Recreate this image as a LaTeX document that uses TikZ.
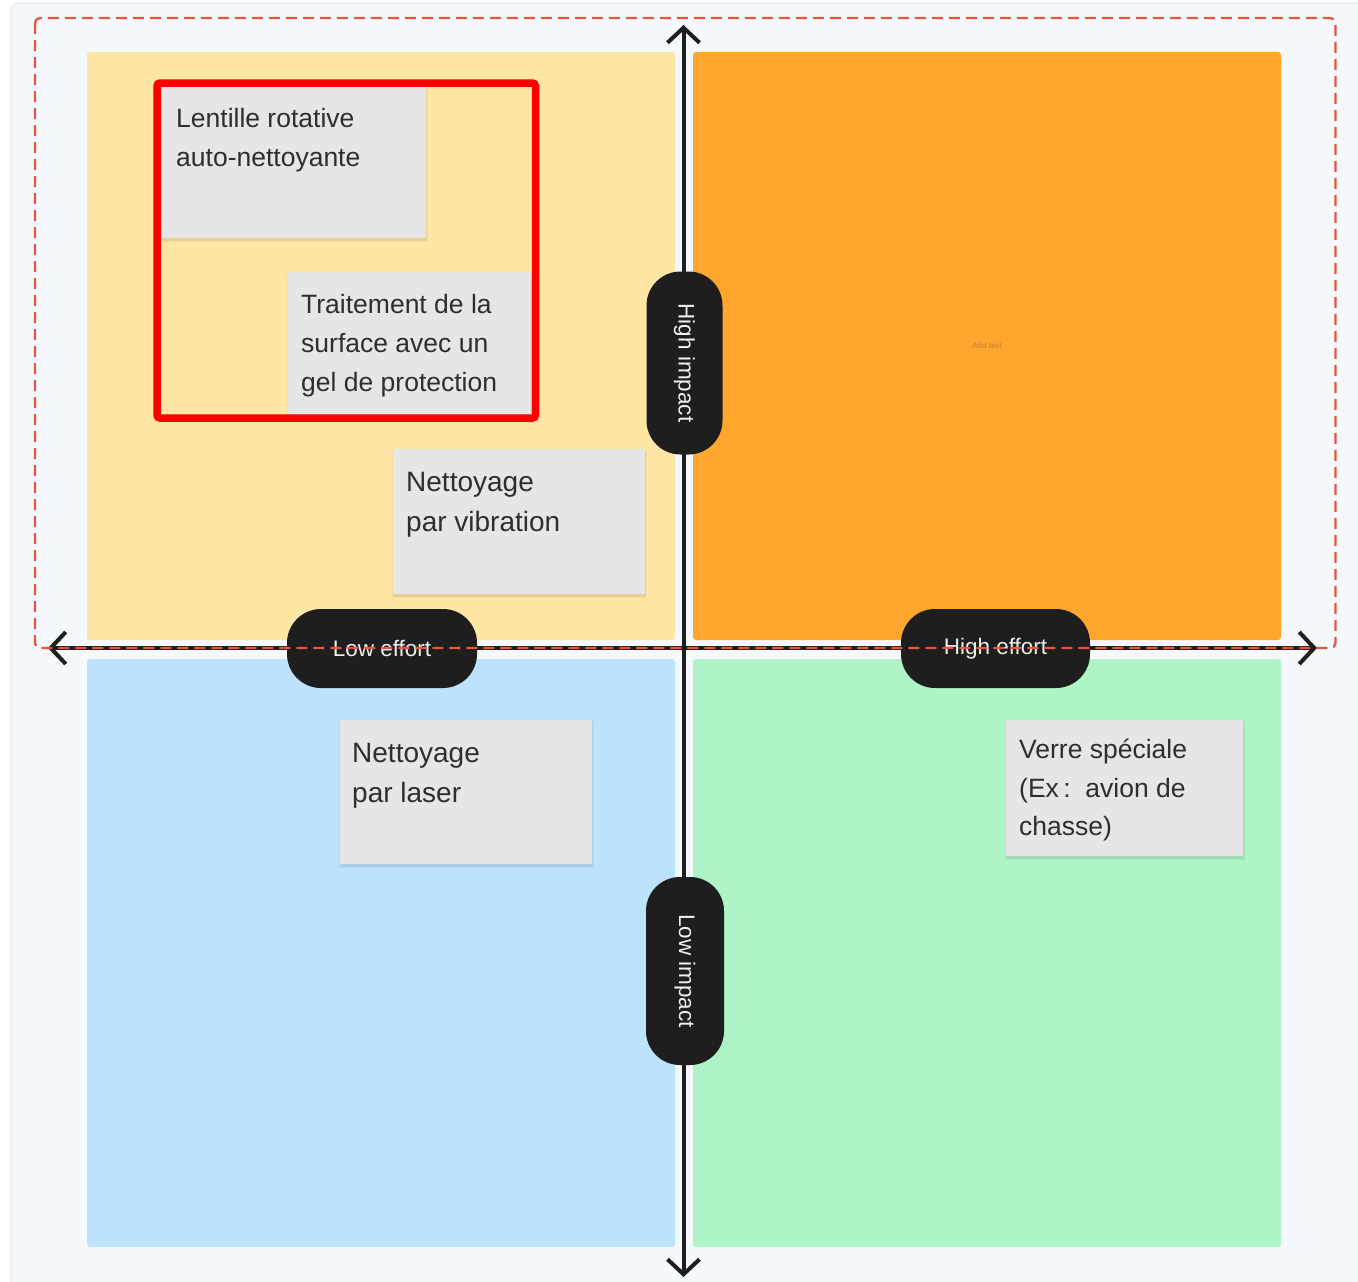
\documentclass[tikz,border=0pt]{standalone}
\usepackage{fontspec}
\setmainfont{Liberation Sans}
\usetikzlibrary{arrows.meta}
\definecolor{panelbg}{HTML}{F5F9FE}
\definecolor{panelbd}{HTML}{E1E8F0}
\definecolor{qyellow}{HTML}{FFE6A4}
\definecolor{qorange}{HTML}{FFA62F}
\definecolor{qblue}{HTML}{BDE3FC}
\definecolor{qgreen}{HTML}{AFF4C6}
\definecolor{notegray}{HTML}{E6E6E6}
\definecolor{notetext}{HTML}{2E2E2E}
\definecolor{pilldark}{HTML}{1E1E1E}
\definecolor{dashred}{HTML}{E8553A}
\definecolor{addtext}{HTML}{BF7E2A}
\tikzset{
  quad/.style={rectangle, rounded corners=3pt, inner sep=0pt, outer sep=0pt, anchor=north west},
  note/.style={rectangle, fill=notegray, inner sep=0pt, outer sep=0pt, anchor=north west},
  notetxt/.style={anchor=base west, inner sep=0pt, text=notetext, font=\fontsize{26.5}{32}\selectfont},
  notetxtbig/.style={anchor=base west, inner sep=0pt, text=notetext, font=\fontsize{28}{34}\selectfont},
  pill/.style={rectangle, rounded corners=34pt, fill=pilldark, text=white!94!black, inner sep=0pt, font=\fontsize{22.5}{26}\selectfont},
  axis/.style={draw=pilldark, line width=4pt, line cap=round, {Straight Barb[length=15pt,width=32pt]}-{Straight Barb[length=15pt,width=32pt]}},
}
\begin{document}
\begin{tikzpicture}[x=1pt,y=-1pt]
\useasboundingbox (0,0) rectangle (1358,1282);
% background panel
\path[fill=panelbg, draw=panelbd, line width=1pt, rounded corners=8pt] (11,3) rectangle (1375,1300);
% quadrants
\node[quad, fill=qyellow, minimum width=588pt, minimum height=588pt] (tl) at (87,52) {};
\node[quad, fill=qorange, minimum width=588pt, minimum height=588pt] (tr) at (693,52) {};
\node[quad, fill=qblue, minimum width=588pt, minimum height=588pt] (bl) at (87,659) {};
\node[quad, fill=qgreen, minimum width=588pt, minimum height=588pt] (br) at (693,659) {};
\node[text=addtext, font=\fontsize{8}{9}\selectfont, inner sep=0pt] (addt) at (987,346) {Add text};
% note shadows
\foreach \x/\y/\w/\h in {162/87/264/151, 287/272/244/142, 393/449/252/145, 340/720/252/144, 1006/720/237/136}{
  \fill[black, opacity=0.04] (\x-1,\y+1) rectangle (\x+\w+2,\y+\h+4);
  \fill[black, opacity=0.05] (\x,\y+1) rectangle (\x+\w+1,\y+\h+2.5);
}
% notes
\node[note, minimum width=264pt, minimum height=151pt] (n1) at (162,87) {};
\node[note, minimum width=244pt, minimum height=142pt] (n2) at (287,272) {};
\node[note, minimum width=252pt, minimum height=145pt] (n3) at (393,449) {};
\node[note, minimum width=252pt, minimum height=144pt] (n4) at (340,720) {};
\node[note, minimum width=237pt, minimum height=136pt] (n5) at (1006,720) {};
% note texts
\node[notetxt] (n1a) at (176,127) {Lentille rotative};
\node[notetxt] (n1b) at (176,166) {auto-nettoyante};
\node[notetxt] (n2a) at (301,313) {Traitement de la};
\node[notetxt] (n2b) at (301,352) {surface avec un};
\node[notetxt] (n2c) at (301,391) {gel de protection};
\node[notetxtbig] (n3a) at (406,491) {Nettoyage};
\node[notetxtbig] (n3b) at (406,531) {par vibration};
\node[notetxtbig] (n4a) at (352,762) {Nettoyage};
\node[notetxtbig] (n4b) at (352,802) {par laser};
\node[notetxt] (n5a) at (1019,758) {Verre spéciale};
\node[notetxt] (n5b) at (1019,797) {(Ex\,:\ \ avion de};
\node[notetxt] (n5c) at (1019,835) {chasse)};
% axes
\coordinate (atop) at (683.5,25);
\coordinate (abot) at (683.5,1277);
\coordinate (aleft) at (48,648);
\coordinate (aright) at (1317,648);
\draw[axis] (abot) -- (atop);
\draw[axis] (aleft) -- (aright);
% pills
\node[pill, rotate=-90, minimum width=183pt, minimum height=76pt] (hi) at (684.5,363) {High impact};
\node[pill, rotate=-90, minimum width=188pt, minimum height=78pt] (li) at (685,971) {Low impact};
\node[pill, minimum width=190pt, minimum height=79pt] (le) at (382,648.5) {Low effort};
\node[pill, minimum width=189pt, minimum height=79pt] (he) at (995.5,648.5) {High effort};
% red frame
\node[rectangle, draw=red, line width=7.5pt, rounded corners=3pt, inner sep=0pt, minimum width=378.5pt, minimum height=335pt] (frame) at (346.25,250.5) {};
% dashed selection
\draw[dashred, line width=2.3pt, dash pattern=on 11pt off 6pt, rounded corners=5pt] (35,18) rectangle (1335.5,648);
\end{tikzpicture}
\end{document}
